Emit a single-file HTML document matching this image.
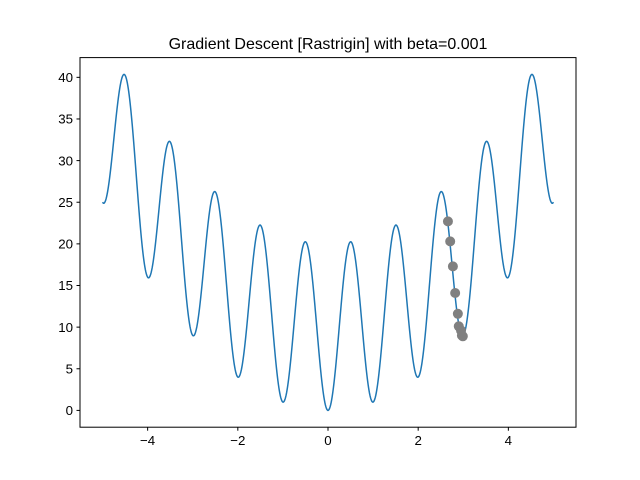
<!DOCTYPE html>
<html><head><meta charset="utf-8"><style>
body{margin:0;background:#fff;}
svg{display:block;font-family:"Liberation Sans","DejaVu Sans",sans-serif;}
</style></head><body>
<svg id="chart" width="640" height="480" viewBox="0 0 640 480">
<rect width="640" height="480" fill="#fff"/>
<text x="328" y="49" text-anchor="middle" font-size="16" fill="#000">Gradient Descent [Rastrigin] with beta=0.001</text>
<g id="ticks"></g>
<g id="plot"></g>
<rect x="80" y="57.6" width="496" height="369.6" fill="none" stroke="#000" stroke-width="1"/>
</svg>
<script>
const xTicks = [-4, -2, 0, 2, 4];
const yTicks = [0, 5, 10, 15, 20, 25, 30, 35, 40];
const curveDomain = [-5, 5];
const gdX = [2.66, 2.71, 2.77, 2.82, 2.88, 2.90, 2.95, 2.97, 2.99];
const gdY = [22.7, 20.3, 17.3, 14.1, 11.6, 10.1, 9.6, 9.0, 8.9];

const NS = "http://www.w3.org/2000/svg";
const X0 = 80, X1 = 576, Y0 = 57.6, Y1 = 427.2;
const xmin = -5.5, xmax = 5.5, ymin = -2.0175, ymax = 42.37;
const sx = v => X0 + (v - xmin) / (xmax - xmin) * (X1 - X0);
const sy = v => Y1 - (v - ymin) / (ymax - ymin) * (Y1 - Y0);
const rastrigin = x => 10 + x * x - 10 * Math.cos(2 * Math.PI * x);

const ticks = document.getElementById('ticks');
const plot = document.getElementById('plot');
function mk(tag, attrs, parent) {
  const e = document.createElementNS(NS, tag);
  for (const k in attrs) e.setAttribute(k, attrs[k]);
  parent.appendChild(e);
  return e;
}
xTicks.forEach(t => {
  const l = mk('line', {x1: sx(t), x2: sx(t), y1: Y1, y2: Y1 + 3.5, stroke: '#000'}, ticks);
  
  
  const tx = mk('text', {x: sx(t), y: Y1 + 18, 'text-anchor': 'middle', 'font-size': 13.3}, ticks);
  tx.textContent = t < 0 ? '\u2212' + Math.abs(t) : String(t);
  
  
});
yTicks.forEach(t => {
  const l = mk('line', {x1: X0 - 3.5, x2: X0, y1: sy(t), y2: sy(t), stroke: '#000'}, ticks);
  
  
  const tx = mk('text', {x: X0 - 7, y: sy(t) + 4.7, 'text-anchor': 'end', 'font-size': 13.3}, ticks);
  tx.textContent = String(t);
  
  
});
let d = '';
const N = 1000;
for (let i = 0; i <= N; i++) {
  const x = curveDomain[0] + (curveDomain[1] - curveDomain[0]) * i / N;
  d += (i ? 'L' : 'M') + sx(x).toFixed(2) + ',' + sy(rastrigin(x)).toFixed(2);
}
const path = mk('path', {d: d, fill: 'none', stroke: '#1f77b4', 'stroke-width': 1.5}, plot);


gdX.forEach((x, i) => {
  const c = mk('circle', {cx: sx(x), cy: sy(gdY[i]), r: 5, fill: '#808080'}, plot);
  
  
});
</script>
</body></html>
